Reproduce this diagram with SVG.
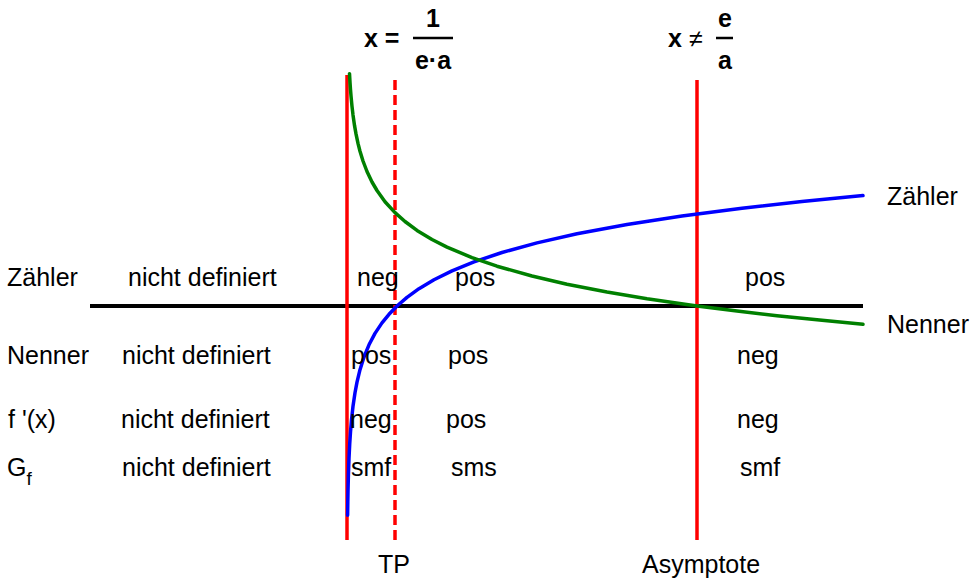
<svg xmlns="http://www.w3.org/2000/svg" width="975" height="579" viewBox="0 0 975 579">
<style>
text{font-family:"Liberation Sans",Arial,sans-serif;font-size:25px;fill:#000}
.b{font-weight:bold}
.red{stroke:#ff0000;stroke-width:3.5;fill:none}
.dash{stroke-dasharray:10 5}
.curve{fill:none;stroke-width:3.5;stroke-linejoin:round;stroke-linecap:round}
</style>
<rect width="975" height="579" fill="#fff"/>
<g id="formulas">
<text class="b" x="364" y="47">x =</text>
<line x1="413" y1="38" x2="453" y2="38" stroke="#000" stroke-width="2.5"/>
<text class="b" x="433" y="27" text-anchor="middle">1</text>
<text class="b" x="433" y="69" text-anchor="middle">e·a</text>
<text class="b" x="668" y="47">x</text>
<text x="689" y="47">≠</text>
<line x1="716" y1="38" x2="733" y2="38" stroke="#000" stroke-width="2.5"/>
<text class="b" x="725" y="27" text-anchor="middle">e</text>
<text class="b" x="725" y="69" text-anchor="middle">a</text>
</g>
<g id="connectors">
<line id="axis" x1="90" y1="306" x2="863" y2="306" stroke="#000" stroke-width="4"/>
<line class="red" x1="347" y1="75" x2="347" y2="540"/>
<line class="red dash" x1="395" y1="80" x2="395" y2="540"/>
<line class="red" x1="697" y1="80" x2="697" y2="540"/>
<path id="zaehler-curve" class="curve" stroke="#0000ff" d="M347.6,515.2 L347.8,501.6 L348,491 L348.4,475.1 L349,458.3 L349.7,444.1 L350.5,431.8 L351.5,419.9 L353,406.3 L355,392.7 L357,382.1 L360,369.7 L364,357 L369,344.8 L375,333.4 L382,322.9 L389,314.3 L397,306 L407,297.4 L419,288.7 L434,279.8 L452,270.9 L474,261.9 L502,252.5 L537,242.9 L577,233.8 L627,224.5 L682,216 L742,208.2 L802,201.6 L863,195.6"/>
<path id="nenner-curve" class="curve" stroke="#008000" d="M349.5,73.7 L350,82.3 L350.5,89.6 L351,95.8 L352,106.3 L353,114.9 L354.5,125.4 L356,133.9 L358,143.4 L360,151.2 L363,161 L367,171.5 L372,182 L377,190.5 L385,201.7 L395,212.6 L405,221.5 L417,230.4 L432,239.5 L447,247.1 L472,257.6 L497,266.2 L532,276 L567,284.2 L607,292 L647,298.8 L697,306 L737,311.1 L777,315.7 L822,320.3 L863,324.3"/>
</g>
<g id="labels">
<text x="887" y="205">Zähler</text>
<text x="887" y="333">Nenner</text>
<text x="378" y="573">TP</text>
<text x="642" y="573">Asymptote</text>
</g>
<g id="row-zaehler">
<text x="7" y="286">Zähler</text>
<text x="128" y="286">nicht definiert</text>
<text x="357" y="286">neg</text>
<text x="455" y="286">pos</text>
<text x="745" y="286">pos</text>
</g>
<g id="row-nenner">
<text x="7" y="364">Nenner</text>
<text x="122" y="364">nicht definiert</text>
<text x="351" y="364">pos</text>
<text x="448" y="364">pos</text>
<text x="737" y="364">neg</text>
</g>
<g id="row-ableitung">
<text x="8" y="428">f '(x)</text>
<text x="121" y="428">nicht definiert</text>
<text x="350" y="428">neg</text>
<text x="446" y="428">pos</text>
<text x="737" y="428">neg</text>
</g>
<g id="row-graph">
<text x="7" y="476">G<tspan font-size="19" dy="9">f</tspan></text>
<text x="122" y="476">nicht definiert</text>
<text x="351" y="476">smf</text>
<text x="451" y="476">sms</text>
<text x="740" y="476">smf</text>
</g>
</svg>
